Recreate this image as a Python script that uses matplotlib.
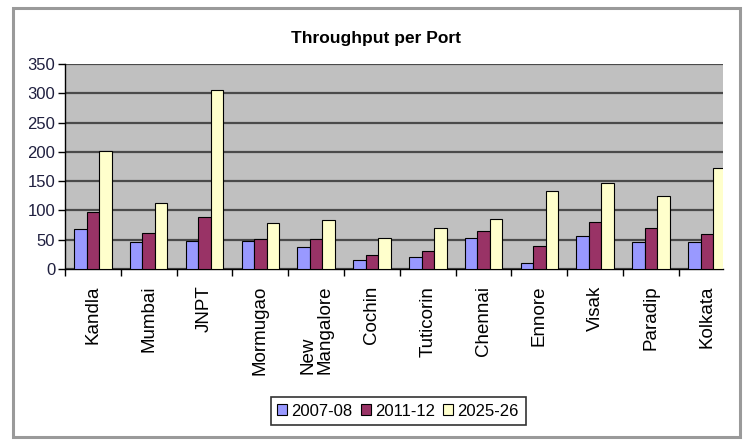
import matplotlib
matplotlib.use("Agg")
import matplotlib.pyplot as plt
import numpy as np
from matplotlib.patches import Rectangle

ports = ["Kandla", "Mumbai", "JNPT", "Mormugao", "New\nMangalore", "Cochin",
         "Tuticorin", "Chennai", "Ennore", "Visak", "Paradip", "Kolkata"]
y2007 = [69, 46, 48, 48, 38, 16, 20, 53, 10, 56, 46, 46]
y2011 = [97, 62, 89, 51, 51, 24, 30, 65, 39, 80, 70, 59]
y2025 = [202, 113, 305, 79, 83, 53, 70, 86, 134, 146, 124, 172]
series_names = ["2007-08", "2011-12", "2025-26"]
colors = ["#9999FF", "#993366", "#FFFFCC"]

plt.rcParams['font.family'] = ['Liberation Sans', 'DejaVu Sans']

W, H = 745, 443
fig = plt.figure(figsize=(W/100, H/100), dpi=100)

def fx(px):
    return px / W

def fy(py):
    return 1 - py / H

ax = fig.add_axes([fx(65), fy(269), fx(723) - fx(65), fy(64) - fy(269)])
ax.set_facecolor("#C0C0C0")

x = np.arange(len(ports))
bw = 0.224
handles = []
for k, (vals, c, name) in enumerate(zip([y2007, y2011, y2025], colors, series_names)):
    b = ax.bar(x + (k - 1) * bw, vals, width=bw, color=c, edgecolor="black",
               linewidth=0.8, label=name, zorder=3)
    handles.append(b)

ax.set_ylim(0, 350)
ax.set_xlim(-0.5, 11.29)
ax.set_yticks(np.arange(0, 351, 50))
ax.yaxis.grid(True, color="#4a4a4a", linewidth=1.6, zorder=1)
ax.set_axisbelow(True)
ax.tick_params(axis="y", length=5, width=1, labelsize=12, pad=2, colors="black")
for lab in ax.get_yticklabels():
    lab.set_color("#1f1f3f")

ax.set_xticks(x)
ax.set_xticklabels(ports, rotation=90, fontsize=13.5, va="top", ha="center",
                   multialignment="left", linespacing=1.0)
ax.tick_params(axis="x", length=0, pad=12)
ax.set_xticks(np.arange(-0.5, 11.3, 1.0), minor=True)
ax.tick_params(axis="x", which="minor", length=5, width=1, direction="out")

for s in ["top", "right"]:
    ax.spines[s].set_visible(False)
ax.spines["left"].set_color("black")
ax.spines["bottom"].set_color("black")
ax.spines["left"].set_linewidth(1)
ax.spines["bottom"].set_linewidth(1)

fig.text(fx(376), fy(39), "Throughput per Port", ha="center", va="center",
         fontsize=12.5, fontweight="bold", color="black")

leg = fig.legend(handles=handles, labels=series_names, loc="center",
                 bbox_to_anchor=(fx(398), fy(411)), ncol=3, frameon=True,
                 fancybox=False, edgecolor="black", fontsize=12,
                 handlelength=0.6, handleheight=0.6, handletextpad=0.25,
                 columnspacing=0.5, borderpad=0.4, borderaxespad=0)
leg.get_frame().set_linewidth(1.2)

# mask the cropped left part of the y labels
fig.patches.append(Rectangle((fx(15), fy(280)), fx(29) - fx(15), fy(50) - fy(280),
                             transform=fig.transFigure, facecolor="white",
                             edgecolor="none", zorder=10))
# outer frame
fig.patches.append(Rectangle((fx(13), fy(437)), fx(740) - fx(13), fy(8) - fy(437),
                             transform=fig.transFigure, facecolor="none",
                             edgecolor="#9a9a9a", linewidth=2.2, zorder=11))

fig.savefig("out.png", dpi=100)
